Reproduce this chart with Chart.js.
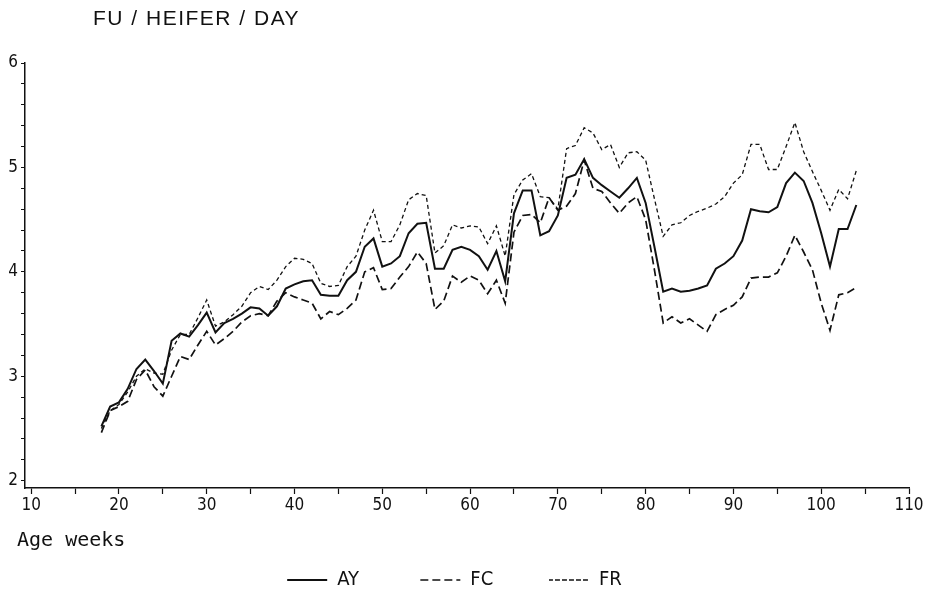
<!DOCTYPE html>
<html>
<head>
<meta charset="utf-8">
<script src="https://cdn.jsdelivr.net/npm/chart.js@4.4.1/dist/chart.umd.min.js"></script>
<style>
  html, body { margin: 0; padding: 0; background: #fff; }
  #wrap { width: 927px; height: 611px; }
</style>
</head>
<body>
<div id="wrap"><canvas id="feedChart"></canvas></div>
<script>
// age in weeks
const weeks = [18, 19, 20, 21, 22, 23, 24, 25, 26, 27, 28, 29, 30, 31, 32, 33, 34, 35, 36,
  37, 38, 39, 40, 41, 42, 43, 44, 45, 46, 47, 48, 49, 50, 51, 52, 53, 54, 55,
  56, 57, 58, 59, 60, 61, 62, 63, 64, 65, 66, 67, 68, 69, 70, 71, 72, 73,
  74, 75, 76, 77, 78, 79, 80, 81, 82, 83, 84, 85, 86, 87, 88, 89, 90, 91,
  92, 93, 94, 95, 96, 97, 98, 99, 100, 101, 102, 103, 104];

// FU per heifer per day
const ay = [2.52, 2.71, 2.75, 2.88, 3.07, 3.16, 3.05, 2.93, 3.34, 3.41, 3.38, 3.49, 3.61, 3.42, 3.51, 3.55, 3.60, 3.66, 3.65,
  3.58, 3.67, 3.84, 3.88, 3.91, 3.92, 3.78, 3.77, 3.77, 3.92, 4.00, 4.24, 4.32, 4.05, 4.08, 4.15, 4.37, 4.46, 4.47,
  4.03, 4.03, 4.21, 4.24, 4.21, 4.15, 4.02, 4.20, 3.91, 4.56, 4.78, 4.78, 4.35, 4.39, 4.54, 4.90, 4.93, 5.08,
  4.90, 4.83, 4.77, 4.71, 4.80, 4.90, 4.66, 4.24, 3.81, 3.84, 3.81, 3.82, 3.84, 3.87, 4.03, 4.08, 4.15, 4.30,
  4.60, 4.58, 4.57, 4.62, 4.85, 4.95, 4.87, 4.66, 4.37, 4.05, 4.41, 4.41, 4.64];

const fc = [2.46, 2.67, 2.71, 2.76, 2.97, 3.06, 2.90, 2.81, 3.00, 3.19, 3.16, 3.30, 3.43, 3.30, 3.36, 3.43, 3.52, 3.58, 3.60,
  3.58, 3.72, 3.80, 3.76, 3.73, 3.70, 3.55, 3.62, 3.59, 3.65, 3.73, 4.00, 4.04, 3.83, 3.84, 3.95, 4.05, 4.19, 4.08,
  3.64, 3.72, 3.96, 3.90, 3.96, 3.92, 3.79, 3.92, 3.70, 4.38, 4.54, 4.55, 4.47, 4.71, 4.59, 4.63, 4.75, 5.07,
  4.80, 4.77, 4.66, 4.56, 4.66, 4.72, 4.50, 4.02, 3.51, 3.57, 3.51, 3.55, 3.49, 3.43, 3.59, 3.64, 3.68, 3.76,
  3.94, 3.95, 3.95, 3.99, 4.15, 4.35, 4.19, 4.02, 3.70, 3.44, 3.78, 3.80, 3.85];

const fr = [2.50, 2.67, 2.73, 2.85, 3.00, 3.07, 3.03, 3.02, 3.25, 3.40, 3.40, 3.56, 3.73, 3.48, 3.52, 3.59, 3.67, 3.80, 3.86,
  3.83, 3.92, 4.05, 4.13, 4.12, 4.08, 3.89, 3.86, 3.87, 4.05, 4.15, 4.40, 4.59, 4.29, 4.29, 4.45, 4.69, 4.75, 4.73,
  4.18, 4.25, 4.45, 4.42, 4.44, 4.43, 4.27, 4.44, 4.15, 4.74, 4.88, 4.94, 4.72, 4.71, 4.60, 5.18, 5.21, 5.38,
  5.33, 5.17, 5.22, 5.00, 5.14, 5.15, 5.07, 4.70, 4.34, 4.45, 4.47, 4.54, 4.58, 4.61, 4.65, 4.72, 4.85, 4.93,
  5.22, 5.22, 4.98, 4.98, 5.20, 5.43, 5.15, 4.96, 4.78, 4.59, 4.79, 4.70, 4.97];

const xTickLabels = [10, 20, 30, 40, 50, 60, 70, 80, 90, 100, 110];
const yTickLabels = [2, 3, 4, 5, 6];

const narrow = "'DejaVu Sans Condensed', 'Liberation Sans Narrow', sans-serif";
const ink = '#111';

function toPoints(values) {
    return weeks.map((w, i) => ({ x: w, y: values[i] }));
}

// plain text that sits outside the scales
const textPlugin = {
    id: 'plainText',
    afterDraw(chart) {
        const c = chart.ctx;
        const area = chart.chartArea;
        c.save();
        c.fillStyle = ink;
        c.textBaseline = 'middle';
        c.font = "21px 'Liberation Sans', sans-serif";
        c.letterSpacing = '1.5px';
        c.fillText('FU / HEIFER / DAY', area.left + 68, 19);
        c.font = "20px 'DejaVu Sans Mono', monospace";
        c.letterSpacing = '0px';
        c.fillText('Age weeks', 17, 541);
        c.restore();
    }
};

const ctx = document.getElementById('feedChart');

new Chart(ctx, {
    type: 'line',
    data: {
        datasets: [{
            label: 'AY         ',
            data: toPoints(ay),
            borderColor: ink,
            backgroundColor: 'transparent',
            borderWidth: 2,
            pointRadius: 0,
            tension: 0
        }, {
            label: 'FC        ',
            data: toPoints(fc),
            borderColor: ink,
            backgroundColor: 'transparent',
            borderWidth: 1.7,
            borderDash: [8, 4],
            pointRadius: 0,
            tension: 0
        }, {
            label: 'FR',
            data: toPoints(fr),
            borderColor: ink,
            backgroundColor: 'transparent',
            borderWidth: 1.3,
            borderDash: [4, 3],
            pointRadius: 0,
            tension: 0
        }]
    },
    options: {
        responsive: true,
        maintainAspectRatio: false,
        animation: false,
        layout: {
            padding: { top: 63, right: 18, bottom: 11, left: 0 }
        },
        plugins: {
            legend: {
                position: 'bottom',
                labels: {
                    boxWidth: 40,
                    boxHeight: 0,
                    padding: 10,
                    color: ink,
                    font: { family: narrow, size: 20 }
                }
            },
            tooltip: { enabled: false }
        },
        scales: {
            x: {
                type: 'linear',
                min: 9.3,
                max: 110,
                afterFit: function(scale) { scale.height = 72; },
                afterBuildTicks: function(scale) {
                    const ticks = [];
                    xTickLabels.forEach(v => {
                        ticks.push({ value: v });
                        if (v < 110) ticks.push({ value: v + 5 });
                    });
                    scale.ticks = ticks;
                },
                border: { display: true, color: ink, width: 1.5 },
                grid: {
                    drawOnChartArea: false,
                    drawTicks: true,
                    tickLength: 6,
                    tickColor: ink,
                    tickWidth: 1.2
                },
                ticks: {
                    autoSkip: false,
                    maxRotation: 0,
                    padding: 1,
                    color: ink,
                    font: { family: narrow, size: 17 },
                    callback: function(value) {
                        return xTickLabels.includes(value) ? String(value) : '';
                    }
                }
            },
            y: {
                type: 'linear',
                min: 1.93,
                max: 6,
                afterFit: function(scale) { scale.width = 25; },
                afterBuildTicks: function(scale) {
                    const ticks = [];
                    for (let i = 0; i < yTickLabels.length; i++) {
                        ticks.push({ value: yTickLabels[i] });
                        if (i < yTickLabels.length - 1) {
                            for (let k = 1; k < 5; k++) ticks.push({ value: yTickLabels[i] + k * 0.2 });
                        }
                    }
                    scale.ticks = ticks;
                },
                border: { display: true, color: ink, width: 1.5 },
                grid: {
                    drawOnChartArea: false,
                    drawTicks: true,
                    tickLength: 4,
                    tickColor: ink,
                    tickWidth: 1
                },
                ticks: {
                    autoSkip: false,
                    padding: 3,
                    color: ink,
                    font: { family: narrow, size: 17 },
                    callback: function(value) {
                        return yTickLabels.includes(value) ? String(value) : '';
                    }
                }
            }
        }
    },
    plugins: [textPlugin]
});
</script>
</body>
</html>
